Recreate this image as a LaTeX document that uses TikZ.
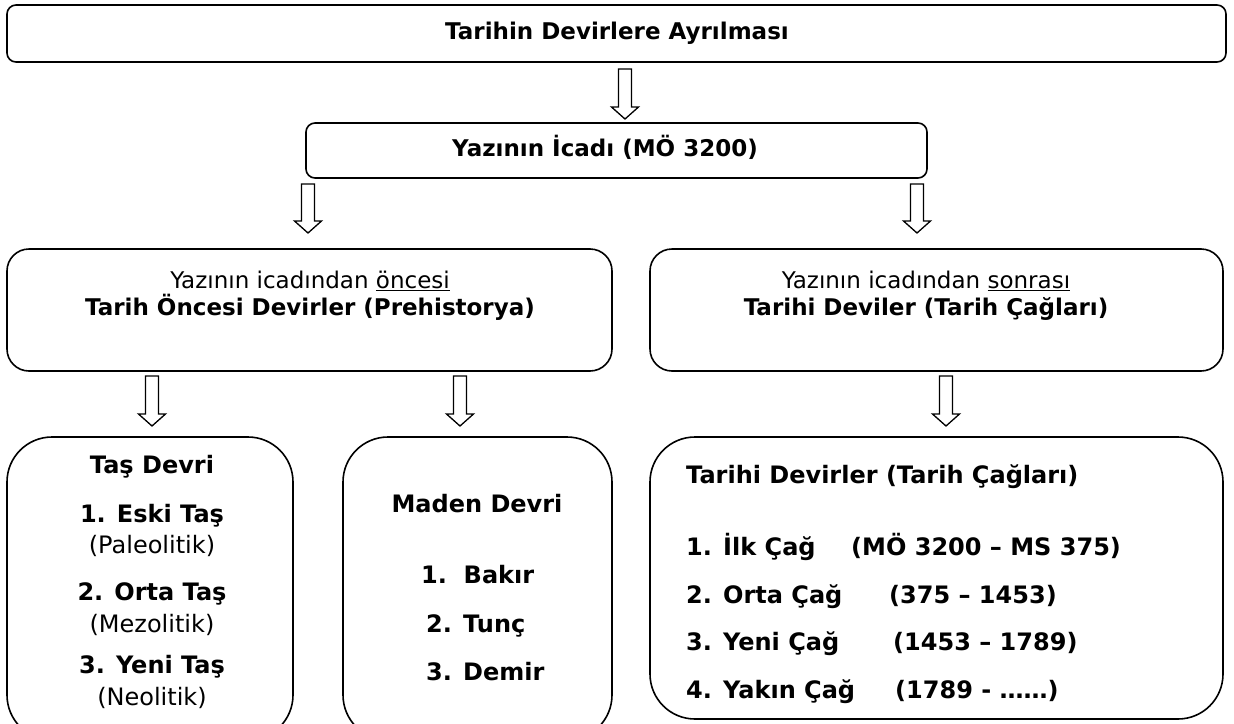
\documentclass[tikz,border=0pt]{standalone}
\usepackage{fontspec}
\setmainfont{DejaVu Sans}
\usetikzlibrary{calc}
\tikzset{
  box/.style={draw=black, line width=1.6pt, fill=white, inner sep=0pt},
  txt/.style={inner sep=0pt, anchor=mid, yshift=-2.5pt, font=\fontsize{23}{27}\selectfont},
  txtb/.style={inner sep=0pt, anchor=mid, yshift=-2.5pt, font=\fontsize{24}{28}\selectfont},
  txtbl/.style={txtb, anchor=mid west},
  blockarrow/.style={draw=black, line width=1.3pt, fill=white, line join=miter,
    to path={let \p1=(\tikztostart), \p2=(\tikztotarget) in
      (\x1-6.5pt,\y1) -- (\x1+6.5pt,\y1) -- (\x1+6.5pt,\y2+12pt) -- (\x1+13.5pt,\y2+12pt)
      -- (\x1,\y2) -- (\x1-13.5pt,\y2+12pt) -- (\x1-6.5pt,\y2+12pt) -- cycle}}
}
\begin{document}
\begin{tikzpicture}[x=1pt,y=-1pt]
\useasboundingbox (0,0) rectangle (1234,723);
\clip (0,0) rectangle (1234,723);
\fill[white] (0,0) rectangle (1234,723);

% level 1
\node[box, rounded corners=9pt, minimum width=1219pt, minimum height=57pt] (top) at (616.5,33.5) {};
\node[txt] (ttop) at (617,34) {\bfseries Tarihin Devirlere Ayrılması};

% level 2
\node[box, rounded corners=9pt, minimum width=621pt, minimum height=55pt] (icat) at (616.5,150.5) {};
\node[txt] (ticat) at (605,151) {\bfseries Yazının İcadı (MÖ 3200)};

% level 3
\node[box, rounded corners=22pt, minimum width=605pt, minimum height=122pt] (pre) at (309.5,310) {};
\node[txt] (tpre1) at (310,283) {Yazının icadından \underline{öncesi}};
\node[txt] (tpre2) at (310,310) {\bfseries Tarih Öncesi Devirler (Prehistorya)};

\node[box, rounded corners=22pt, minimum width=573pt, minimum height=122pt] (hist) at (936.5,310) {};
\node[txt] (thist1) at (926,283) {Yazının icadından \underline{sonrası}};
\node[txt] (thist2) at (926,310) {\bfseries Tarihi Deviler (Tarih Çağları)};

% level 4
\node[box, rounded corners=45pt, minimum width=286pt, minimum height=303pt] (tas) at (150,588.5) {};
\node[txtb] (t1) at (152,468) {\bfseries Taş Devri};
\node[txtb] (t2) at (152,517) {\bfseries 1. Eski Taş};
\node[txtb] (t3) at (152,548) {(Paleolitik)};
\node[txtb] (t4) at (152,595) {\bfseries 2. Orta Taş};
\node[txtb] (t5) at (152,627) {(Mezolitik)};
\node[txtb] (t6) at (152,668) {\bfseries 3. Yeni Taş};
\node[txtb] (t7) at (152,700) {(Neolitik)};

\node[box, rounded corners=45pt, minimum width=269pt, minimum height=303pt] (maden) at (477.5,588.5) {};
\node[txtb] (m1) at (477,507) {\bfseries Maden Devri};
\node[txtbl] (m2) at (421,578) {\bfseries 1.\ \ Bakır};
\node[txtbl] (m3) at (426,627) {\bfseries 2. Tunç};
\node[txtbl] (m4) at (426,675) {\bfseries 3. Demir};

\node[box, rounded corners=45pt, minimum width=573pt, minimum height=282pt] (cag) at (936.5,578) {};
\node[txtbl] (c0) at (686,478) {\bfseries Tarihi Devirler (Tarih Çağları)};
\node[txtbl] (c1) at (686,550) {\bfseries 1. İlk Çağ};
\node[txtbl] (d1) at (851,550) {\bfseries (MÖ 3200 – MS 375)};
\node[txtbl] (c2) at (686,598) {\bfseries 2. Orta Çağ};
\node[txtbl] (d2) at (889,598) {\bfseries (375 – 1453)};
\node[txtbl] (c3) at (686,645) {\bfseries 3. Yeni Çağ};
\node[txtbl] (d3) at (893,645) {\bfseries (1453 – 1789)};
\node[txtbl] (c4) at (686,693) {\bfseries 4. Yakın Çağ};
\node[txtbl] (d4) at (895,693) {\bfseries (1789 - ……)};

% arrows
\coordinate (a1s) at (625,69);  \coordinate (a1e) at (625,119);
\coordinate (a2s) at (308,184); \coordinate (a2e) at (308,233);
\coordinate (a3s) at (917,184); \coordinate (a3e) at (917,233);
\coordinate (a4s) at (152,376); \coordinate (a4e) at (152,426);
\coordinate (a5s) at (460,376); \coordinate (a5e) at (460,426);
\coordinate (a6s) at (946,376); \coordinate (a6e) at (946,426);
\draw[blockarrow] (a1s) to (a1e);
\draw[blockarrow] (a2s) to (a2e);
\draw[blockarrow] (a3s) to (a3e);
\draw[blockarrow] (a4s) to (a4e);
\draw[blockarrow] (a5s) to (a5e);
\draw[blockarrow] (a6s) to (a6e);
\end{tikzpicture}
\end{document}
